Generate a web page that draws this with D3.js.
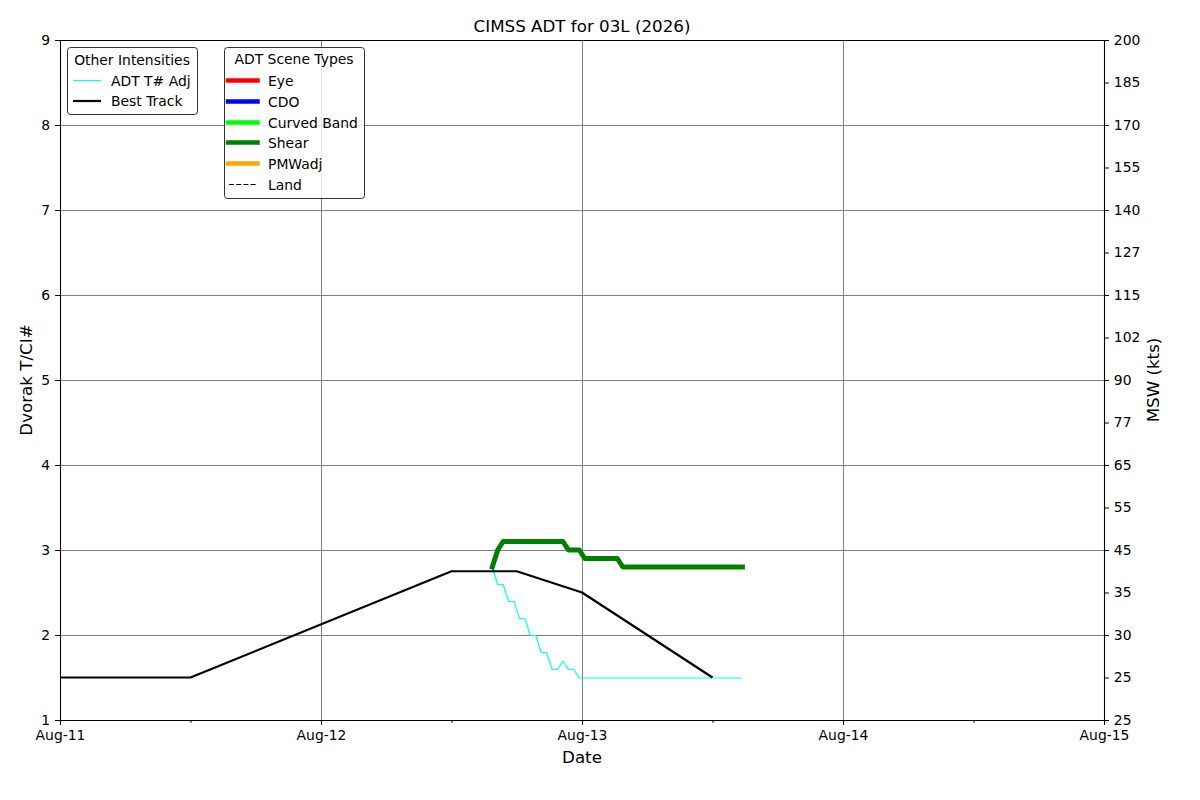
<!DOCTYPE html>
<html>
<head>
<meta charset="utf-8">
<script src="https://d3js.org/d3.v7.min.js"></script>
<style>
  body { margin: 0; background: #fff; }
  text { font-family: "DejaVu Sans", sans-serif; fill: #000; }
</style>
</head>
<body>
<script>
// ADT analyses (UTC, half-hourly)
var adtTimes = [
  "2026-08-12 15:45", "2026-08-12 16:15", "2026-08-12 16:45", "2026-08-12 17:15", "2026-08-12 17:45",
  "2026-08-12 18:15", "2026-08-12 18:45", "2026-08-12 19:15", "2026-08-12 19:45", "2026-08-12 20:15",
  "2026-08-12 20:45", "2026-08-12 21:15", "2026-08-12 21:45", "2026-08-12 22:15", "2026-08-12 22:45",
  "2026-08-12 23:15", "2026-08-12 23:45", "2026-08-13 00:15", "2026-08-13 00:45", "2026-08-13 01:15",
  "2026-08-13 01:45", "2026-08-13 02:15", "2026-08-13 02:45", "2026-08-13 03:15", "2026-08-13 03:45",
  "2026-08-13 04:15", "2026-08-13 04:45", "2026-08-13 05:15", "2026-08-13 05:45", "2026-08-13 06:15",
  "2026-08-13 06:45", "2026-08-13 07:15", "2026-08-13 07:45", "2026-08-13 08:15", "2026-08-13 08:45",
  "2026-08-13 09:15", "2026-08-13 09:45", "2026-08-13 10:15", "2026-08-13 10:45", "2026-08-13 11:15",
  "2026-08-13 11:45", "2026-08-13 12:15", "2026-08-13 12:45", "2026-08-13 13:15", "2026-08-13 13:45",
  "2026-08-13 14:15", "2026-08-13 14:45"
];
// ADT T# Adj (cyan)
var adtTnumAdj = [
  2.8, 2.6, 2.6, 2.4, 2.4, 2.2, 2.2, 2.0, 2.0, 1.8,
  1.8, 1.6, 1.6, 1.7, 1.6, 1.6, 1.5, 1.5, 1.5, 1.5,
  1.5, 1.5, 1.5, 1.5, 1.5, 1.5, 1.5, 1.5, 1.5, 1.5,
  1.5, 1.5, 1.5, 1.5, 1.5, 1.5, 1.5, 1.5, 1.5, 1.5,
  1.5, 1.5, 1.5, 1.5, 1.5, 1.5, 1.5
];
// ADT final T# for the Shear scene type
var adtShear = [
  2.8, 3.0, 3.1, 3.1, 3.1, 3.1, 3.1, 3.1, 3.1, 3.1,
  3.1, 3.1, 3.1, 3.1, 3.0, 3.0, 3.0, 2.9, 2.9, 2.9,
  2.9, 2.9, 2.9, 2.9, 2.8, 2.8, 2.8, 2.8, 2.8, 2.8,
  2.8, 2.8, 2.8, 2.8, 2.8, 2.8, 2.8, 2.8, 2.8, 2.8,
  2.8, 2.8, 2.8, 2.8, 2.8, 2.8, 2.8
];

var bestTrackTimes = ["2026-08-11 00:00", "2026-08-11 12:00", "2026-08-12 12:00",
                      "2026-08-12 18:00", "2026-08-13 00:00", "2026-08-13 12:00"];
var bestTrackTnum = [1.5, 1.5, 2.75, 2.75, 2.5, 1.5];

var dayTicks = ["2026-08-11 00:00", "2026-08-12 00:00", "2026-08-13 00:00", "2026-08-14 00:00", "2026-08-15 00:00"];
var dayLabels = ["Aug-11", "Aug-12", "Aug-13", "Aug-14", "Aug-15"];
var halfDayTicks = ["2026-08-11 12:00", "2026-08-12 12:00", "2026-08-13 12:00", "2026-08-14 12:00"];

var tnumTicks = [1, 2, 3, 4, 5, 6, 7, 8, 9];
var mswTicks = [1, 1.5, 2, 2.5, 3, 3.5, 4, 4.5, 5, 5.5, 6, 6.5, 7, 7.5, 8, 8.5, 9];
var mswLabels = ["25", "25", "30", "35", "45", "55", "65", "77", "90", "102",
                 "115", "127", "140", "155", "170", "185", "200"];

var otherNames = ["ADT T# Adj", "Best Track"];
var otherColors = ["#00ffff", "#000000"];
var otherWidths = [1.2, 2.2];

var sceneNames = ["Eye", "CDO", "Curved Band", "Shear", "PMWadj", "Land"];
var sceneColors = ["#ff0000", "#0000ff", "#00ff00", "#008000", "#ffa500", "#000000"];

var W = 1200, H = 800;
var pL = 60, pR = 1104, pT = 40, pB = 720;
var parse = d3.utcParse("%Y-%m-%d %H:%M");
var fs = 13.9;

var svg = d3.select("body").append("svg")
    .attr("width", W)
    .attr("height", H);

var x = d3.scaleUtc()
    .domain([parse(dayTicks[0]), parse(dayTicks[dayTicks.length - 1])])
    .range([pL, pR]);
var y = d3.scaleLinear().domain([1, 9]).range([pB, pT]);

// grid
svg.append("g")
    .attr("transform", "translate(0," + pB + ")")
    .call(d3.axisBottom(x).tickValues(dayTicks.map(parse)).tickSize(-(pB - pT)).tickFormat(""))
    .call(function(g) {
        g.select(".domain").remove();
        g.selectAll("line").attr("stroke", "#808080").attr("stroke-width", 1);
    });
svg.append("g")
    .attr("transform", "translate(" + pL + ",0)")
    .call(d3.axisLeft(y).tickValues(tnumTicks).tickSize(-(pR - pL)).tickFormat(""))
    .call(function(g) {
        g.select(".domain").remove();
        g.selectAll("line").attr("stroke", "#808080").attr("stroke-width", 1);
    });

var line = d3.line()
    .x(function(d) { return x(d.t); })
    .y(function(d) { return y(d.v); });

var bestTrack = bestTrackTimes.map(function(t, i) { return { t: parse(t), v: bestTrackTnum[i] }; });
var adjSeries = adtTimes.map(function(t, i) { return { t: parse(t), v: adtTnumAdj[i] }; });
var shearSeries = adtTimes.map(function(t, i) { return { t: parse(t), v: adtShear[i] }; });

// half-pixel nudge keeps the thin lines crisp
svg.append("path")
    .datum(adjSeries)
    .attr("transform", "translate(0,0.5)")
    .attr("d", line)
    .attr("fill", "none")
    .attr("stroke", otherColors[0])
    .attr("stroke-width", otherWidths[0])
    .attr("stroke-linejoin", "round");

svg.append("path")
    .datum(bestTrack)
    .attr("d", line)
    .attr("fill", "none")
    .attr("stroke", otherColors[1])
    .attr("stroke-width", otherWidths[1])
    .attr("stroke-linejoin", "round");

svg.append("path")
    .datum(shearSeries)
    .attr("d", line)
    .attr("fill", "none")
    .attr("stroke", sceneColors[3])
    .attr("stroke-width", 5)
    .attr("stroke-linejoin", "round")
    .attr("stroke-linecap", "square");

// axes
function styleAxis(g) {
    g.attr("font-size", fs).attr("font-family", "DejaVu Sans");
    g.selectAll("line").attr("stroke", "#000").attr("stroke-width", 1);
    g.select(".domain").attr("stroke", "#000").attr("stroke-width", 1.1);
}

svg.append("g")
    .attr("transform", "translate(" + pL + ",0)")
    .call(d3.axisLeft(y).tickValues(tnumTicks).tickSizeOuter(0).tickSize(4.9).tickPadding(4.9).tickFormat(d3.format("d")))
    .call(styleAxis);

svg.append("g")
    .attr("transform", "translate(" + pR + ",0)")
    .call(d3.axisRight(y).tickValues(mswTicks).tickSizeOuter(0).tickSize(4.9).tickPadding(4.9)
        .tickFormat(function(d, i) { return mswLabels[i]; }))
    .call(styleAxis);

svg.append("g")
    .attr("transform", "translate(0," + pB + ")")
    .call(d3.axisBottom(x).tickValues(dayTicks.map(parse)).tickSizeOuter(0).tickSize(4.9).tickPadding(4.9)
        .tickFormat(function(d, i) { return dayLabels[i]; }))
    .call(styleAxis);

svg.append("g")
    .attr("transform", "translate(0," + pB + ")")
    .call(d3.axisBottom(x).tickValues(halfDayTicks.map(parse)).tickSize(2.8).tickFormat(""))
    .call(function(g) {
        g.select(".domain").remove();
        g.selectAll("line").attr("stroke", "#000").attr("stroke-width", 1);
    });

svg.append("line")
    .attr("x1", pL).attr("x2", pR)
    .attr("y1", pT + 0.5).attr("y2", pT + 0.5)
    .attr("stroke", "#000").attr("stroke-width", 1.1);

// titles
svg.append("text")
    .attr("x", (pL + pR) / 2).attr("y", 32)
    .attr("text-anchor", "middle")
    .attr("font-size", 16.7)
    .text("CIMSS ADT for 03L (2026)");

svg.append("text")
    .attr("x", (pL + pR) / 2).attr("y", 763)
    .attr("text-anchor", "middle")
    .attr("font-size", 16.7)
    .text("Date");

svg.append("text")
    .attr("transform", "translate(32," + (pT + pB) / 2 + ") rotate(-90)")
    .attr("text-anchor", "middle")
    .attr("font-size", 16.7)
    .text("Dvorak T/CI#");

svg.append("text")
    .attr("transform", "translate(1159," + (pT + pB) / 2 + ") rotate(-90)")
    .attr("text-anchor", "middle")
    .attr("font-size", 16.7)
    .text("MSW (kts)");

// legend: other intensities
var leg1 = svg.append("g");
leg1.append("rect")
    .attr("x", 67.5).attr("y", 47.5).attr("width", 130).attr("height", 67).attr("rx", 3)
    .attr("fill", "#fff").attr("fill-opacity", 0.8)
    .attr("stroke", "#000").attr("stroke-opacity", 0.8);
leg1.append("text")
    .attr("x", 132).attr("y", 64.5)
    .attr("text-anchor", "middle")
    .attr("font-size", fs)
    .text("Other Intensities");
var e1 = leg1.selectAll(".entry")
    .data(otherNames)
    .enter().append("g")
    .attr("transform", function(d, i) { return "translate(0," + (80 + i * 20.5) + ")"; });
e1.append("line")
    .attr("x1", 73).attr("x2", 101)
    .attr("y1", 0.5).attr("y2", 0.5)
    .attr("stroke", function(d, i) { return otherColors[i]; })
    .attr("stroke-width", function(d, i) { return otherWidths[i]; });
e1.append("text")
    .attr("x", 111).attr("y", 5.5)
    .attr("font-size", fs)
    .text(function(d) { return d; });

// legend: scene types
var leg2 = svg.append("g");
leg2.append("rect")
    .attr("x", 224.5).attr("y", 47.5).attr("width", 140).attr("height", 151).attr("rx", 3)
    .attr("fill", "#fff").attr("fill-opacity", 0.8)
    .attr("stroke", "#000").attr("stroke-opacity", 0.8);
leg2.append("text")
    .attr("x", 294).attr("y", 63.5)
    .attr("text-anchor", "middle")
    .attr("font-size", fs)
    .text("ADT Scene Types");
var e2 = leg2.selectAll(".entry")
    .data(sceneNames)
    .enter().append("g")
    .attr("transform", function(d, i) { return "translate(0," + Math.round(80 + i * 20.8) + ")"; });
e2.append("line")
    .attr("x1", function(d, i) { return i === 5 ? 229 : 228; })
    .attr("x2", function(d, i) { return i === 5 ? 257 : 257.5; })
    .attr("y1", 0.5).attr("y2", 0.5)
    .attr("stroke", function(d, i) { return sceneColors[i]; })
    .attr("stroke-width", function(d, i) { return i === 5 ? 1 : 4.5; })
    .attr("stroke-linecap", function(d, i) { return i === 5 ? "butt" : "square"; })
    .attr("stroke-dasharray", function(d, i) { return i === 5 ? "5,2.2" : null; });
e2.append("text")
    .attr("x", 268).attr("y", 5.5)
    .attr("font-size", fs)
    .text(function(d) { return d; });
</script>
</body>
</html>
